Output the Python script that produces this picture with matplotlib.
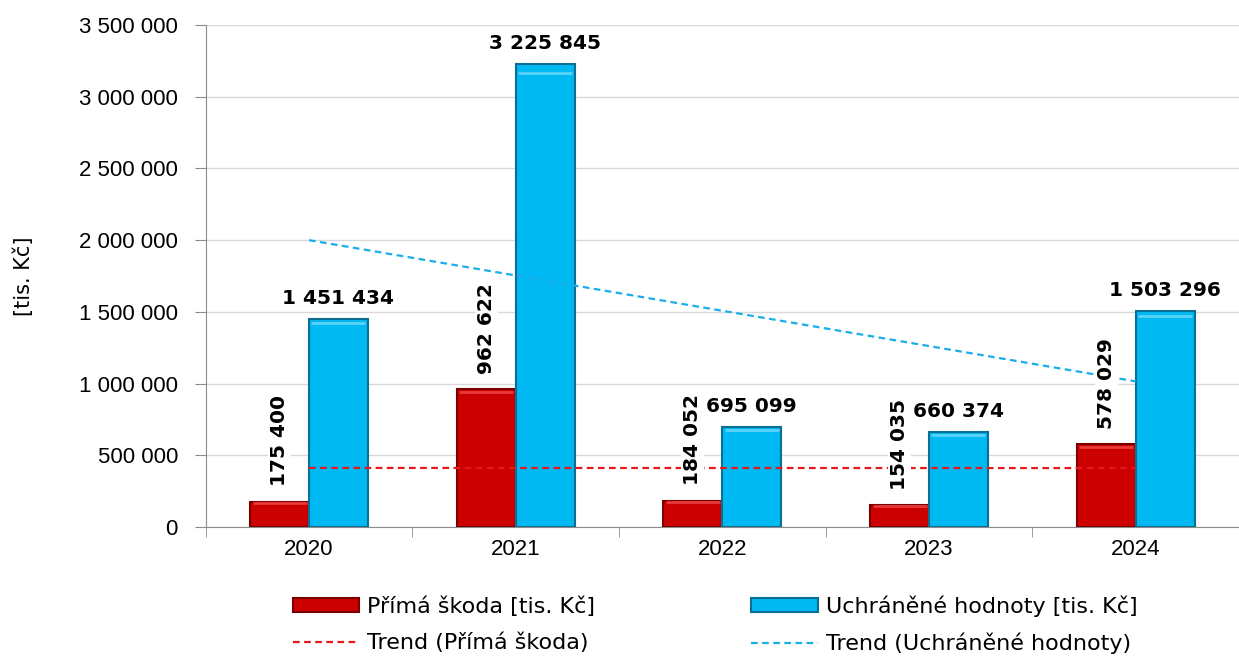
import numpy as np
import matplotlib
matplotlib.use("Agg")
import matplotlib.pyplot as plt
from matplotlib.ticker import FuncFormatter, FixedLocator

# data
years = ["2020", "2021", "2022", "2023", "2024"]
prima_skoda = [175400, 962622, 184052, 154035, 578029]
uchranene = [1451434, 3225845, 695099, 660374, 1503296]

label_red = "Přímá škoda [tis. Kč]"
label_blue = "Uchráněné hodnoty [tis. Kč]"
label_trend_red = "Trend (Přímá škoda)"
label_trend_blue = "Trend (Uchráněné hodnoty)"

RED = "#CC0000"
RED_EDGE = "#7A0000"
BLUE = "#00B8F2"
BLUE_EDGE = "#0A6F93"


def fmt(v):
    return f"{int(v):,}".replace(",", " ")


fig = plt.figure(figsize=(12.39, 6.57), dpi=100)
ax = fig.add_axes([0.166, 0.198, 0.834, 0.764])

x = np.arange(len(years))
w = 0.285

# bars
b_red = ax.bar(x - w / 2, prima_skoda, width=w, color=RED, edgecolor=RED_EDGE,
               linewidth=1.5, zorder=3)
b_blue = ax.bar(x + w / 2, uchranene, width=w, color=BLUE, edgecolor=BLUE_EDGE,
                linewidth=1.5, zorder=3)
# light bevel highlight near the top of each bar
for bars, hl in [(b_red, "#E83A3A"), (b_blue, "#5AD3F8")]:
    for r in bars:
        h = r.get_height()
        ax.plot([r.get_x() + 0.012, r.get_x() + r.get_width() - 0.012],
                [h * 0.985 - 9000] * 2, color=hl, linewidth=2, zorder=3.5,
                solid_capstyle="butt")

# linear trend lines
trend_lines = []
for vals, col in [(prima_skoda, "#E8171B"), (uchranene, "#1AAEE8")]:
    k, q = np.polyfit(x, vals, 1)
    ln, = ax.plot(x, k * x + q, color=col, linestyle=(0, (3, 2)), linewidth=1.6,
                  zorder=4)
    trend_lines.append(ln)

# data labels
for xi, v in zip(x, prima_skoda):
    ax.annotate(fmt(v), (xi - w / 2, v), xytext=(0, 11), textcoords="offset points",
                ha="center", va="bottom", rotation=90, fontsize=14.5,
                fontweight="bold", family="DejaVu Sans", zorder=6,
                bbox=dict(facecolor="white", edgecolor="none", pad=1.5))
for xi, v in zip(x, uchranene):
    ax.annotate(fmt(v), (xi + w / 2, v), xytext=(0, 8), textcoords="offset points",
                ha="center", va="bottom", fontsize=14.5, fontweight="bold",
                family="DejaVu Sans", zorder=6,
                bbox=dict(facecolor="white", edgecolor="none", pad=1.5))

# axes styling
ax.set_xlim(-0.5, len(years) - 0.5)
ax.set_ylim(0, 3500000)
ax.set_yticks(np.arange(0, 3500001, 500000))
ax.yaxis.set_major_formatter(FuncFormatter(lambda v, p: fmt(v)))
ax.set_xticks(x)
ax.set_xticklabels(years)
ax.xaxis.set_minor_locator(FixedLocator(np.arange(-0.5, len(years), 1.0)))
ax.tick_params(axis="x", which="major", length=0, pad=9)
ax.tick_params(axis="x", which="minor", length=7, color="#8C8C8C")
ax.tick_params(axis="y", length=8, color="#8C8C8C", pad=12)
ax.tick_params(labelfontfamily="Liberation Sans", labelsize=16)

ax.grid(axis="y", color="#D9D9D9", linewidth=1, zorder=0)
ax.set_axisbelow(True)
for s in ["top", "right"]:
    ax.spines[s].set_visible(False)
ax.spines["left"].set_color("#8C8C8C")
ax.spines["bottom"].set_color("#8C8C8C")

ax.set_ylabel("[tis. Kč]", fontsize=15, family="DejaVu Sans", labelpad=32)

handles = [b_red, trend_lines[0], b_blue, trend_lines[1]]
labels = [label_red, label_trend_red, label_blue, label_trend_blue]
leg = fig.legend(handles, labels,
                 loc="upper center", bbox_to_anchor=(0.577, 0.124), ncol=2,
                 frameon=False, handlelength=3.0, handleheight=0.6,
                 handletextpad=0.36, columnspacing=7.0, labelspacing=0.7,
                 borderpad=0.4, prop={"family": "DejaVu Sans", "size": 16})

fig.savefig("out.png", dpi=100)
